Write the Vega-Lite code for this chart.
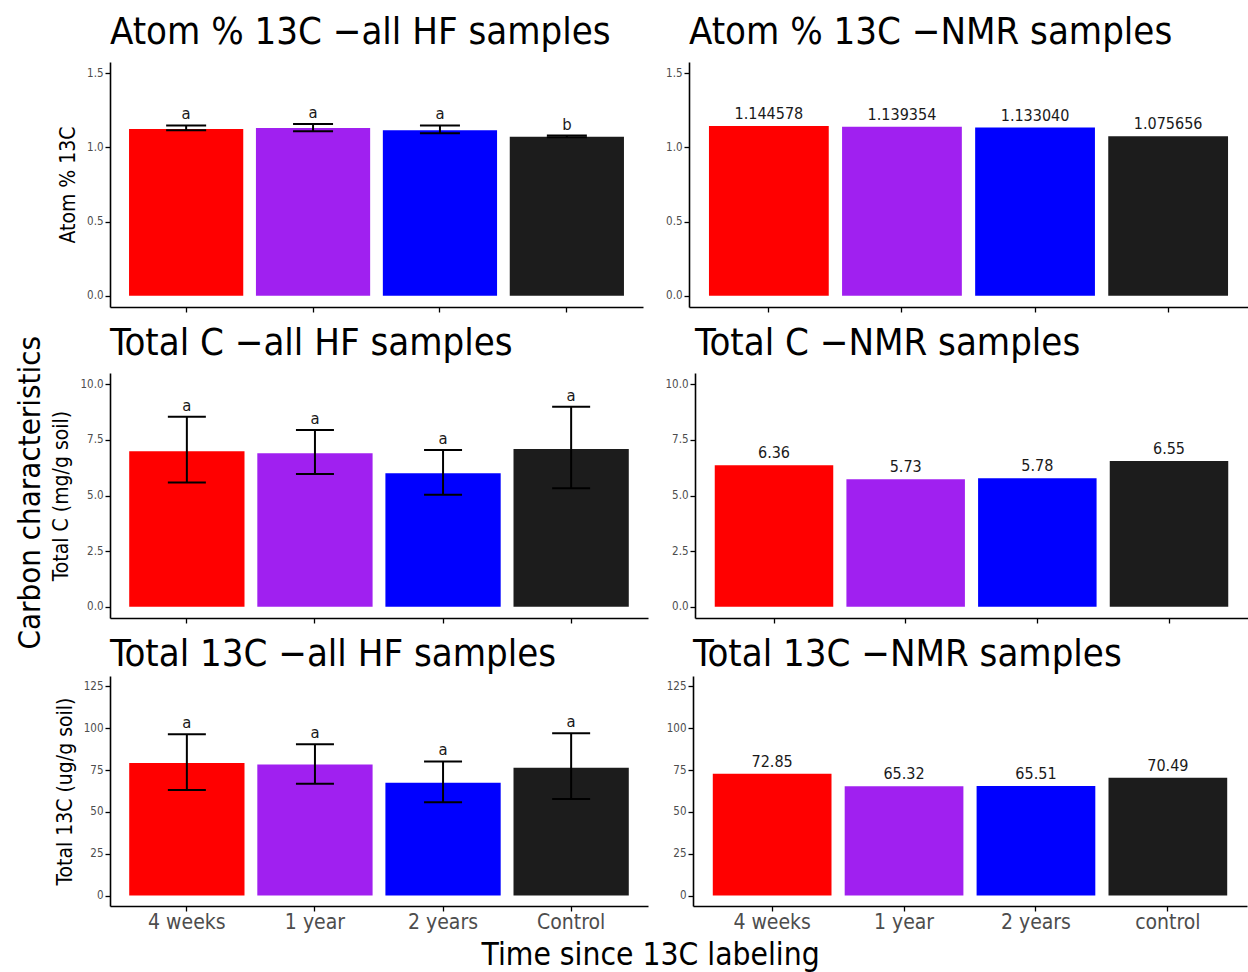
{
  "$schema": "https://vega.github.io/schema/vega-lite/v6.json",
  "padding": {"left": 14, "top": 14, "right": 0, "bottom": 0},
  "background": "white",
  "config": {
    "font": "DejaVu Sans Condensed, DejaVu Sans",
    "view": {"stroke": null},
    "axis": {"grid": false, "domainColor": "black", "domainWidth": 1.6, "tickColor": "black", "tickWidth": 1.3, "tickSize": 5, "labelColor": "#4D4D4D", "labelFontSize": 11.5, "labelFont": "DejaVu Sans Condensed, DejaVu Sans", "titleFont": "DejaVu Sans Condensed, DejaVu Sans", "titleFontWeight": "normal", "titleColor": "black", "titleFontSize": 21, "labelPadding": 2, "titlePadding": 8},
    "title": {"font": "DejaVu Sans Condensed, DejaVu Sans", "fontWeight": "normal", "fontSize": 38, "anchor": "start", "frame": "group", "color": "black", "offset": 10}
  },
  "datasets": {
    "hf_atom": [
      {"time": "4 weeks", "mean": 1.124, "lo": 1.115, "hi": 1.148, "letter": "a"},
      {"time": "1 year", "mean": 1.130, "lo": 1.108, "hi": 1.158, "letter": "a"},
      {"time": "2 years", "mean": 1.115, "lo": 1.095, "hi": 1.148, "letter": "a"},
      {"time": "Control", "mean": 1.072, "lo": 1.068, "hi": 1.080, "letter": "b"}
    ],
    "nmr_atom": [
      {"time": "4 weeks", "value": 1.144578},
      {"time": "1 year", "value": 1.139354},
      {"time": "2 years", "value": 1.13304},
      {"time": "control", "value": 1.075656}
    ],
    "hf_c": [
      {"time": "4 weeks", "mean": 6.99, "lo": 5.58, "hi": 8.54, "letter": "a"},
      {"time": "1 year", "mean": 6.90, "lo": 5.97, "hi": 7.94, "letter": "a"},
      {"time": "2 years", "mean": 6.00, "lo": 5.03, "hi": 7.04, "letter": "a"},
      {"time": "Control", "mean": 7.09, "lo": 5.33, "hi": 8.99, "letter": "a"}
    ],
    "nmr_c": [
      {"time": "4 weeks", "value": 6.36},
      {"time": "1 year", "value": 5.73},
      {"time": "2 years", "value": 5.78},
      {"time": "control", "value": 6.55}
    ],
    "hf_13c": [
      {"time": "4 weeks", "mean": 79.2, "lo": 63.1, "hi": 96.4, "letter": "a"},
      {"time": "1 year", "mean": 78.4, "lo": 66.9, "hi": 90.5, "letter": "a"},
      {"time": "2 years", "mean": 67.5, "lo": 55.8, "hi": 80.2, "letter": "a"},
      {"time": "Control", "mean": 76.4, "lo": 57.7, "hi": 97.0, "letter": "a"}
    ],
    "nmr_13c": [
      {"time": "4 weeks", "value": 72.85},
      {"time": "1 year", "value": 65.32},
      {"time": "2 years", "value": 65.51},
      {"time": "control", "value": 70.49}
    ]
  },
  "title": {"text": "Carbon characteristics", "orient": "left", "anchor": "middle", "frame": "bounds", "fontSize": 31, "offset": 4},
  "spacing": 12,
  "resolve": {"scale": {"color": "independent", "x": "independent", "y": "independent"}},
  "vconcat": [
    {
      "spacing": 22,
      "resolve": {"scale": {"color": "independent", "x": "independent", "y": "independent"}},
      "hconcat": [
        {
          "width": 533, "height": 245,
          "title": {"text": "Atom % 13C −all HF samples"},
          "data": {"name": "hf_atom"},
          "encoding": {"x": {"field": "time", "type": "nominal", "sort": null, "scale": {"paddingInner": 0.1, "paddingOuter": 0.15}, "axis": {"labels": false, "title": null}}},
          "layer": [
            {"mark": "bar", "encoding": {
              "y": {"field": "mean", "type": "quantitative", "scale": {"domain": [-0.075, 1.575], "nice": false, "zero": false}, "axis": {"values": [0, 0.5, 1, 1.5], "format": ".1f", "title": "Atom % 13C"}},
              "y2": {"datum": 0},
              "color": {"field": "time", "type": "nominal", "scale": {"domain": ["4 weeks", "1 year", "2 years", "Control"], "range": ["#FF0000", "#A020F0", "#0000FF", "#1C1C1C"]}, "legend": null}}},
            {"mark": {"type": "rule", "strokeWidth": 2, "color": "black"}, "encoding": {"y": {"field": "lo", "type": "quantitative"}, "y2": {"field": "hi"}}},
            {"mark": {"type": "tick", "size": 40, "thickness": 2, "color": "black", "opacity": 1}, "encoding": {"y": {"field": "lo", "type": "quantitative"}}},
            {"mark": {"type": "tick", "size": 40, "thickness": 2, "color": "black", "opacity": 1}, "encoding": {"y": {"field": "hi", "type": "quantitative"}}},
            {"mark": {"type": "text", "baseline": "alphabetic", "dy": -6, "fontSize": 16.5, "color": "#1A1A1A"}, "encoding": {"y": {"field": "hi", "type": "quantitative"}, "text": {"field": "letter"}}}
          ]
        },
        {
          "width": 559, "height": 245,
          "title": {"text": "Atom % 13C −NMR samples"},
          "data": {"name": "nmr_atom"},
          "encoding": {"x": {"field": "time", "type": "nominal", "sort": null, "scale": {"paddingInner": 0.1, "paddingOuter": 0.15}, "axis": {"labels": false, "title": null}}},
          "layer": [
            {"mark": "bar", "encoding": {
              "y": {"field": "value", "type": "quantitative", "scale": {"domain": [-0.075, 1.575], "nice": false, "zero": false}, "axis": {"values": [0, 0.5, 1, 1.5], "format": ".1f", "title": null}},
              "y2": {"datum": 0},
              "color": {"field": "time", "type": "nominal", "scale": {"domain": ["4 weeks", "1 year", "2 years", "control"], "range": ["#FF0000", "#A020F0", "#0000FF", "#1C1C1C"]}, "legend": null}}},
            {"mark": {"type": "text", "baseline": "alphabetic", "dy": -7, "fontSize": 16, "color": "#1A1A1A"}, "encoding": {"y": {"field": "value", "type": "quantitative"}, "text": {"field": "value", "format": ".6f"}}}
          ]
        }
      ]
    },
    {
      "spacing": 16,
      "resolve": {"scale": {"color": "independent", "x": "independent", "y": "independent"}},
      "hconcat": [
        {
          "width": 538, "height": 245,
          "title": {"text": "Total C −all HF samples"},
          "data": {"name": "hf_c"},
          "encoding": {"x": {"field": "time", "type": "nominal", "sort": null, "scale": {"paddingInner": 0.1, "paddingOuter": 0.15}, "axis": {"labels": false, "title": null}}},
          "layer": [
            {"mark": "bar", "encoding": {
              "y": {"field": "mean", "type": "quantitative", "scale": {"domain": [-0.5, 10.5], "nice": false, "zero": false}, "axis": {"values": [0, 2.5, 5, 7.5, 10], "format": ".1f", "title": "Total C (mg/g soil)"}},
              "y2": {"datum": 0},
              "color": {"field": "time", "type": "nominal", "scale": {"domain": ["4 weeks", "1 year", "2 years", "Control"], "range": ["#FF0000", "#A020F0", "#0000FF", "#1C1C1C"]}, "legend": null}}},
            {"mark": {"type": "rule", "strokeWidth": 2, "color": "black"}, "encoding": {"y": {"field": "lo", "type": "quantitative"}, "y2": {"field": "hi"}}},
            {"mark": {"type": "tick", "size": 38, "thickness": 2, "color": "black", "opacity": 1}, "encoding": {"y": {"field": "lo", "type": "quantitative"}}},
            {"mark": {"type": "tick", "size": 38, "thickness": 2, "color": "black", "opacity": 1}, "encoding": {"y": {"field": "hi", "type": "quantitative"}}},
            {"mark": {"type": "text", "baseline": "alphabetic", "dy": -6, "fontSize": 16.5, "color": "#1A1A1A"}, "encoding": {"y": {"field": "hi", "type": "quantitative"}, "text": {"field": "letter"}}}
          ]
        },
        {
          "width": 553, "height": 245,
          "title": {"text": "Total C −NMR samples"},
          "data": {"name": "nmr_c"},
          "encoding": {"x": {"field": "time", "type": "nominal", "sort": null, "scale": {"paddingInner": 0.1, "paddingOuter": 0.15}, "axis": {"labels": false, "title": null}}},
          "layer": [
            {"mark": "bar", "encoding": {
              "y": {"field": "value", "type": "quantitative", "scale": {"domain": [-0.5, 10.5], "nice": false, "zero": false}, "axis": {"values": [0, 2.5, 5, 7.5, 10], "format": ".1f", "title": null}},
              "y2": {"datum": 0},
              "color": {"field": "time", "type": "nominal", "scale": {"domain": ["4 weeks", "1 year", "2 years", "control"], "range": ["#FF0000", "#A020F0", "#0000FF", "#1C1C1C"]}, "legend": null}}},
            {"mark": {"type": "text", "baseline": "alphabetic", "dy": -7, "fontSize": 16, "color": "#1A1A1A"}, "encoding": {"y": {"field": "value", "type": "quantitative"}, "text": {"field": "value", "format": ".2f"}}}
          ]
        }
      ]
    },
    {
      "spacing": 18,
      "title": {"text": "Time since 13C labeling", "orient": "bottom", "anchor": "middle", "frame": "bounds", "fontSize": 31.5, "offset": 8},
      "resolve": {"scale": {"color": "independent", "x": "independent", "y": "independent"}},
      "hconcat": [
        {
          "width": 538, "height": 230,
          "title": {"text": "Total 13C −all HF samples", "offset": 2},
          "data": {"name": "hf_13c"},
          "encoding": {"x": {"field": "time", "type": "nominal", "sort": null, "scale": {"paddingInner": 0.1, "paddingOuter": 0.15}, "axis": {"labelAngle": 0, "labelFontSize": 21, "title": null, "labelPadding": 0}}},
          "layer": [
            {"mark": "bar", "encoding": {
              "y": {"field": "mean", "type": "quantitative", "scale": {"domain": [-6.25, 131.25], "nice": false, "zero": false}, "axis": {"values": [0, 25, 50, 75, 100, 125], "format": "d", "title": "Total 13C (ug/g soil)"}},
              "y2": {"datum": 0},
              "color": {"field": "time", "type": "nominal", "scale": {"domain": ["4 weeks", "1 year", "2 years", "Control"], "range": ["#FF0000", "#A020F0", "#0000FF", "#1C1C1C"]}, "legend": null}}},
            {"mark": {"type": "rule", "strokeWidth": 2, "color": "black"}, "encoding": {"y": {"field": "lo", "type": "quantitative"}, "y2": {"field": "hi"}}},
            {"mark": {"type": "tick", "size": 38, "thickness": 2, "color": "black", "opacity": 1}, "encoding": {"y": {"field": "lo", "type": "quantitative"}}},
            {"mark": {"type": "tick", "size": 38, "thickness": 2, "color": "black", "opacity": 1}, "encoding": {"y": {"field": "hi", "type": "quantitative"}}},
            {"mark": {"type": "text", "baseline": "alphabetic", "dy": -6, "fontSize": 16.5, "color": "#1A1A1A"}, "encoding": {"y": {"field": "hi", "type": "quantitative"}, "text": {"field": "letter"}}}
          ]
        },
        {
          "width": 554, "height": 230,
          "title": {"text": "Total 13C −NMR samples", "offset": 2},
          "data": {"name": "nmr_13c"},
          "encoding": {"x": {"field": "time", "type": "nominal", "sort": null, "scale": {"paddingInner": 0.1, "paddingOuter": 0.15}, "axis": {"labelAngle": 0, "labelFontSize": 21, "title": null, "labelPadding": 0}}},
          "layer": [
            {"mark": "bar", "encoding": {
              "y": {"field": "value", "type": "quantitative", "scale": {"domain": [-6.25, 131.25], "nice": false, "zero": false}, "axis": {"values": [0, 25, 50, 75, 100, 125], "format": "d", "title": null}},
              "y2": {"datum": 0},
              "color": {"field": "time", "type": "nominal", "scale": {"domain": ["4 weeks", "1 year", "2 years", "control"], "range": ["#FF0000", "#A020F0", "#0000FF", "#1C1C1C"]}, "legend": null}}},
            {"mark": {"type": "text", "baseline": "alphabetic", "dy": -7, "fontSize": 16, "color": "#1A1A1A"}, "encoding": {"y": {"field": "value", "type": "quantitative"}, "text": {"field": "value", "format": ".2f"}}}
          ]
        }
      ]
    }
  ]
}
